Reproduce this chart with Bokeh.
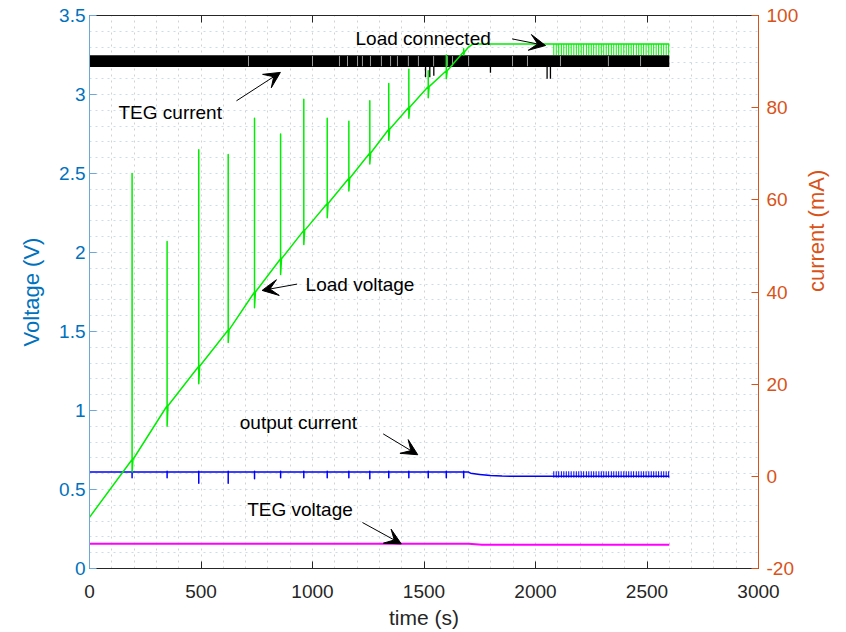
import math

from bokeh.plotting import figure
from bokeh.models import (Range1d, LinearAxis, FixedTicker, CustomJSTickFormatter,
                          Label, Arrow, VeeHead)
from bokeh.embed import file_html
from bokeh.resources import INLINE

# ---------------- data ----------------
# Load voltage (V): ramp start, then one switching event per row
load_start_v = 0.324
event_t = [191, 348, 490, 622, 740, 857, 961, 1066, 1163, 1257, 1342, 1432, 1519, 1600, 1678]
load_base_v = [0.69, 1.03, 1.28, 1.51, 1.75, 1.96, 2.14, 2.31, 2.47, 2.63, 2.78, 2.92, 3.05, 3.15, 3.27]
load_peak_v = [2.50, 2.07, 2.65, 2.62, 2.85, 2.75, 2.97, 2.85, 2.83, 2.96, 3.07, 3.16, 3.15, 3.25, 3.29]
load_dip_v = [0.61, 0.90, 1.17, 1.43, 1.65, 1.86, 2.05, 2.22, 2.39, 2.56, 2.71, 2.85, 2.98, 3.10, 3.25]
# regulated plateau once the load is connected
plateau_t = [1700, 1720, 2082, 2600]
plateau_v = [3.30, 3.32, 3.32, 3.32]
# switching ripple after the load is connected
ripple_t = [2082, 2093, 2104, 2116, 2127, 2138, 2149, 2160, 2172, 2183, 2194, 2205,
            2216, 2228, 2239, 2250, 2261, 2272, 2284, 2295, 2306, 2317, 2328, 2340,
            2351, 2362, 2373, 2384, 2396, 2407, 2418, 2429, 2440, 2452, 2463, 2474,
            2485, 2496, 2508, 2519, 2530, 2541, 2552, 2564, 2575, 2586, 2597]
load_ripple_lo_v = 3.25
load_ripple_hi_v = 3.32

# Output current (mA)
out_base_ma = 0.92
out_peak_ma = 1.10
out_dip_ma = [-0.3, -0.3, -1.5, -1.5, -0.5, -0.3, -0.3, -0.3, -0.3, -0.5, -0.3, -0.3, -0.3, -0.3, -0.3]
out_tail_t = [1700, 1709, 1750, 1798, 1850, 1900, 2600]
out_tail_ma = [0.92, 0.68, 0.40, 0.18, 0.05, 0.0, 0.0]
out_ripple_lo_ma = -0.3
out_ripple_hi_ma = 1.10

# TEG current (mA): dense switching band with occasional dips
teg_i_t = [0, 2600]
teg_i_lo_ma = [88.8, 88.8]
teg_i_hi_ma = [91.4, 91.4]
teg_i_dip_t = [1507, 1526, 1544, 1798, 2052, 2067]
teg_i_dip_ma = [86.6, 86.6, 86.9, 87.6, 86.3, 86.3]
teg_i_gap_t = [713, 1000, 1121, 1157, 1202, 1224, 1260, 1309, 1350, 1381, 1430,
               1475, 1543, 1605, 1628, 1700, 1897, 1964, 2112, 2327, 2471]

# TEG voltage (V)
teg_v_t = [0, 1700, 1760, 2600]
teg_v = [0.157, 0.157, 0.151, 0.151]

# Axis ticks
x_ticks = [0, 500, 1000, 1500, 2000, 2500, 3000]
v_ticks = [0, 0.5, 1, 1.5, 2, 2.5, 3, 3.5]
ma_ticks = [-20, 0, 20, 40, 60, 80, 100]

# Annotations: text anchor (left, middle) and arrows (tail -> head), in (s, V)
ann_text = ["TEG current", "Load connected", "Load voltage", "output current", "TEG voltage"]
ann_x = [130, 1193, 969, 674, 707]
ann_y = [2.886, 3.354, 1.797, 0.926, 0.373]
arr_x0 = [659, 1895, 931, 1317, 1224]
arr_y0 = [2.96, 3.352, 1.80, 0.852, 0.291]
arr_x1 = [856, 2045, 774, 1472, 1398]
arr_y1 = [3.14, 3.31, 1.76, 0.72, 0.156]

# ---------------- styling ----------------
FONT = "Liberation Sans"
BLUE_AX = "#0072BD"
ORANGE_AX = "#D95319"
DARK = "#262626"

p = figure(width=846, height=632,
           x_range=Range1d(0, 3000), y_range=Range1d(0, 3.5),
           output_backend="svg", toolbar_location=None,
           min_border_left=89, min_border_right=88,
           min_border_top=15, min_border_bottom=64)
p.extra_y_ranges = {"mA": Range1d(-20, 100)}
p.outline_line_color = None
p.background_fill_color = "white"
p.border_fill_color = "white"

fmt = CustomJSTickFormatter(code="return tick.toString();")

def style_axis(ax, color, line_color, label_color):
    ax.formatter = fmt
    ax.axis_line_color = line_color
    ax.major_tick_line_color = line_color
    ax.major_tick_in = 7
    ax.major_tick_out = 0
    ax.minor_tick_in = 0
    ax.minor_tick_out = 0
    ax.major_label_text_font = FONT
    ax.major_label_text_font_size = "19px"
    ax.major_label_text_color = color
    ax.axis_label_text_font = FONT
    ax.axis_label_text_font_style = "normal"
    ax.axis_label_text_font_size = "22px"
    ax.axis_label_text_color = label_color

xa = p.xaxis[0]
xa.ticker = FixedTicker(ticks=x_ticks)
style_axis(xa, DARK, DARK, DARK)
xa.axis_label = "time (s)"
xa.axis_label_text_font_size = "21px"
xa.major_label_standoff = 16
xa.axis_label_standoff = 5

ya = p.yaxis[0]
ya.ticker = FixedTicker(ticks=v_ticks)
style_axis(ya, BLUE_AX, "#6fa8d6", BLUE_AX)
ya.axis_label = "Voltage (V)"
ya.major_label_standoff = 4
ya.axis_label_standoff = 12

ra = LinearAxis(y_range_name="mA", ticker=FixedTicker(ticks=ma_ticks), axis_label="current (mA)")
style_axis(ra, ORANGE_AX, ORANGE_AX, ORANGE_AX)
ra.major_label_standoff = 8
ra.axis_label_standoff = 15
ra.axis_label_orientation = math.pi / 2
p.add_layout(ra, "right")

# top border with inward ticks only (drawn as minor ticks, so no labels)
ta = LinearAxis(ticker=FixedTicker(ticks=[], minor_ticks=x_ticks))
ta.axis_line_color = DARK
ta.major_tick_in = 0
ta.major_tick_out = 0
ta.minor_tick_in = 7
ta.minor_tick_out = 0
ta.minor_tick_line_color = DARK
ta.major_label_standoff = 0
p.add_layout(ta, "above")

# dotted grid every 100 s and every 0.1 V
p.xgrid.ticker = FixedTicker(ticks=list(range(0, 3001, 100)))
p.ygrid.ticker = FixedTicker(ticks=[k / 10 for k in range(0, 36)])
p.xgrid.grid_line_color = "#d2d2d2"
p.ygrid.grid_line_color = "#cadcee"
p.xgrid.grid_line_dash = "2 4"
p.ygrid.grid_line_dash = "2 4"
p.xgrid.grid_line_width = 1
p.ygrid.grid_line_width = 1

# ---------------- TEG current (black band) ----------------
p.varea(x=teg_i_t, y1=teg_i_lo_ma, y2=teg_i_hi_ma, fill_color="black", y_range_name="mA")
p.segment(x0=teg_i_gap_t, x1=teg_i_gap_t,
          y0=[teg_i_lo_ma[0] + 0.2] * len(teg_i_gap_t),
          y1=[teg_i_hi_ma[0] - 0.2] * len(teg_i_gap_t),
          line_color="#9a9a9a", line_width=1, y_range_name="mA")
p.segment(x0=teg_i_dip_t, x1=teg_i_dip_t,
          y0=[teg_i_lo_ma[0]] * len(teg_i_dip_t), y1=teg_i_dip_ma,
          line_color="black", line_width=1.3, y_range_name="mA")

# ---------------- TEG voltage ----------------
p.line(teg_v_t, teg_v, line_color="#ff00ff", line_width=2)

# ---------------- output current ----------------
bx, by = [0], [out_base_ma]
for t, d in zip(event_t, out_dip_ma):
    bx += [t, t, t, t]
    by += [out_base_ma, out_peak_ma, d, out_base_ma]
bx += out_tail_t
by += out_tail_ma
p.line(bx, by, line_color="#0000ff", line_width=1.5, line_join="round", y_range_name="mA")
p.segment(x0=ripple_t, x1=ripple_t,
          y0=[out_ripple_lo_ma] * len(ripple_t), y1=[out_ripple_hi_ma] * len(ripple_t),
          line_color="#0000ff", line_width=1, y_range_name="mA")

# ---------------- load voltage ----------------
gx, gy = [0], [load_start_v]
for t, b, pk, d in zip(event_t, load_base_v, load_peak_v, load_dip_v):
    gx += [t, t, t, t + 4]
    gy += [b, pk, d, b]
gx += plateau_t
gy += plateau_v
p.line(gx, gy, line_color="#00ee00", line_width=1.5, line_join="round")
p.segment(x0=ripple_t, x1=ripple_t,
          y0=[load_ripple_lo_v] * len(ripple_t), y1=[load_ripple_hi_v] * len(ripple_t),
          line_color="#00ee00", line_width=1)

# ---------------- annotations ----------------
for txt, x, y in zip(ann_text, ann_x, ann_y):
    p.add_layout(Label(x=x, y=y, text=txt, text_font=FONT, text_font_size="19px",
                       text_color="black", text_baseline="middle", text_align="left"))
for x0, y0, x1, y1 in zip(arr_x0, arr_y0, arr_x1, arr_y1):
    p.add_layout(Arrow(x_start=x0, y_start=y0, x_end=x1, y_end=y1,
                       line_color="black", line_width=1,
                       end=VeeHead(size=16, fill_color="black", line_color="black")))

open("out.html", "w").write(file_html(p, INLINE))
